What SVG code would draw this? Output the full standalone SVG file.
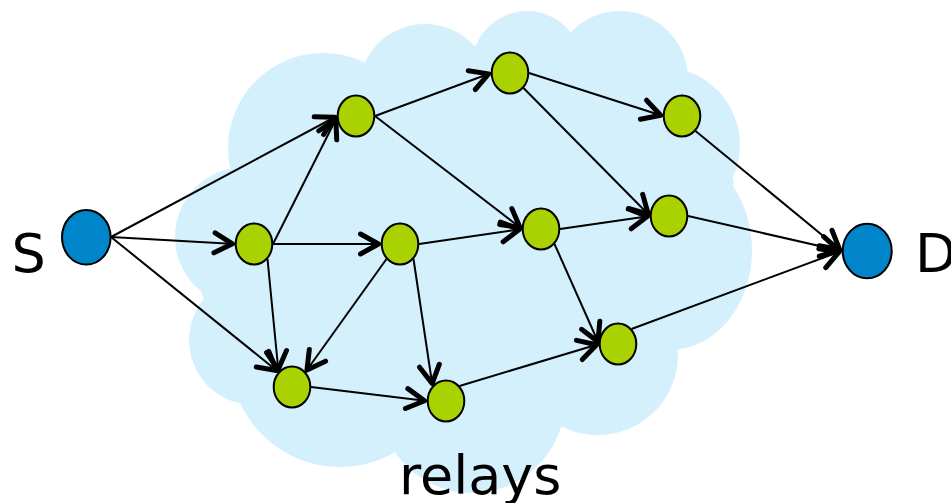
<svg xmlns="http://www.w3.org/2000/svg" width="951" height="503" viewBox="0 0 951 503">
<style>
.cloud{fill:#D5F0FD;stroke:none}
.relay{fill:#A9D200;stroke:#000;stroke-width:2}
.end{fill:#0084CA;stroke:#000;stroke-width:2}
.edge{fill:none;stroke:#000;stroke-width:2;marker-end:url(#arr)}
.lbl{font-family:"DejaVu Sans",Verdana,sans-serif;font-size:54px;fill:#000}
</style>
<defs>
<marker id="arr" markerUnits="userSpaceOnUse" markerWidth="40" markerHeight="40" viewBox="-30 -20 40 40" refX="2.5" refY="0" orient="auto" overflow="visible">
<path d="M-18,-10 L0,0 L-18,10" fill="none" stroke="#000" stroke-width="5" stroke-linecap="round" stroke-linejoin="round"/>
</marker>
</defs>
<g id="cloud">
<polygon class="cloud" points="227,173 363,67 477,45 573,35 687,72 734,182 675,347 557,422 395,448 253,407 202,295"/>
<circle class="cloud" cx="323" cy="148" r="95"/>
<circle class="cloud" cx="425" cy="90" r="66"/>
<circle class="cloud" cx="527" cy="66" r="55"/>
<circle class="cloud" cx="620" cy="79" r="68"/>
<circle class="cloud" cx="662" cy="145" r="78"/>
<ellipse class="cloud" cx="670" cy="250" rx="82" ry="100"/>
<circle class="cloud" cx="598" cy="355" r="80"/>
<circle class="cloud" cx="472" cy="400" r="93"/>
<circle class="cloud" cx="340" cy="357" r="110"/>
<circle class="cloud" cx="254" cy="340" r="65"/>
<circle class="cloud" cx="245" cy="237" r="70"/>
</g>
<g id="connectors">
<line class="edge" x1="111" y1="237" x2="337" y2="116"/>
<line class="edge" x1="111" y1="237" x2="235" y2="244"/>
<line class="edge" x1="111" y1="237" x2="278.5" y2="372"/>
<line class="edge" x1="273" y1="244" x2="337" y2="117"/>
<line class="edge" x1="273" y1="244" x2="381" y2="244"/>
<line class="edge" x1="267.5" y1="259" x2="278.5" y2="372"/>
<line class="edge" x1="375" y1="116" x2="491" y2="73"/>
<line class="edge" x1="375" y1="116" x2="522" y2="229"/>
<line class="edge" x1="386.5" y1="259" x2="305.5" y2="372"/>
<line class="edge" x1="413.5" y1="259" x2="432.5" y2="386"/>
<line class="edge" x1="419" y1="244" x2="522" y2="229"/>
<line class="edge" x1="311" y1="387" x2="427" y2="401"/>
<line class="edge" x1="459.5" y1="386" x2="599" y2="344"/>
<line class="edge" x1="529" y1="73" x2="663" y2="116"/>
<line class="edge" x1="523.5" y1="88" x2="650" y2="216"/>
<line class="edge" x1="695.5" y1="131" x2="841.5" y2="251"/>
<line class="edge" x1="560" y1="229" x2="650" y2="216"/>
<line class="edge" x1="554.5" y1="244" x2="599" y2="344"/>
<line class="edge" x1="688" y1="216" x2="841.5" y2="251"/>
<line class="edge" x1="631.5" y1="329" x2="841.5" y2="251"/>
</g>
<g id="S"><ellipse class="end" cx="86.3" cy="237.3" rx="24.3" ry="27.3"/><text class="lbl" x="11.5" y="272">S</text></g>
<g id="D"><ellipse class="end" cx="867.2" cy="251" rx="24.5" ry="27.3"/><text class="lbl" x="915" y="272">D</text></g>
<g id="n1"><ellipse class="relay" cx="254" cy="244" rx="18.3" ry="20.5"/></g>
<g id="n2"><ellipse class="relay" cx="356" cy="116" rx="18.3" ry="20.5"/></g>
<g id="n3"><ellipse class="relay" cx="400" cy="244" rx="18.3" ry="20.5"/></g>
<g id="n4"><ellipse class="relay" cx="292" cy="387" rx="18.3" ry="20.5"/></g>
<g id="n5"><ellipse class="relay" cx="446" cy="401" rx="18.3" ry="20.5"/></g>
<g id="n6"><ellipse class="relay" cx="510" cy="73" rx="18.3" ry="20.5"/></g>
<g id="n7"><ellipse class="relay" cx="682" cy="116" rx="18.3" ry="20.5"/></g>
<g id="n8"><ellipse class="relay" cx="541" cy="229" rx="18.3" ry="20.5"/></g>
<g id="n9"><ellipse class="relay" cx="669" cy="216" rx="18.3" ry="20.5"/></g>
<g id="n10"><ellipse class="relay" cx="618" cy="344" rx="18.3" ry="20.5"/></g>
<g id="relays-label"><text class="lbl" x="399" y="494">relays</text></g>
</svg>
